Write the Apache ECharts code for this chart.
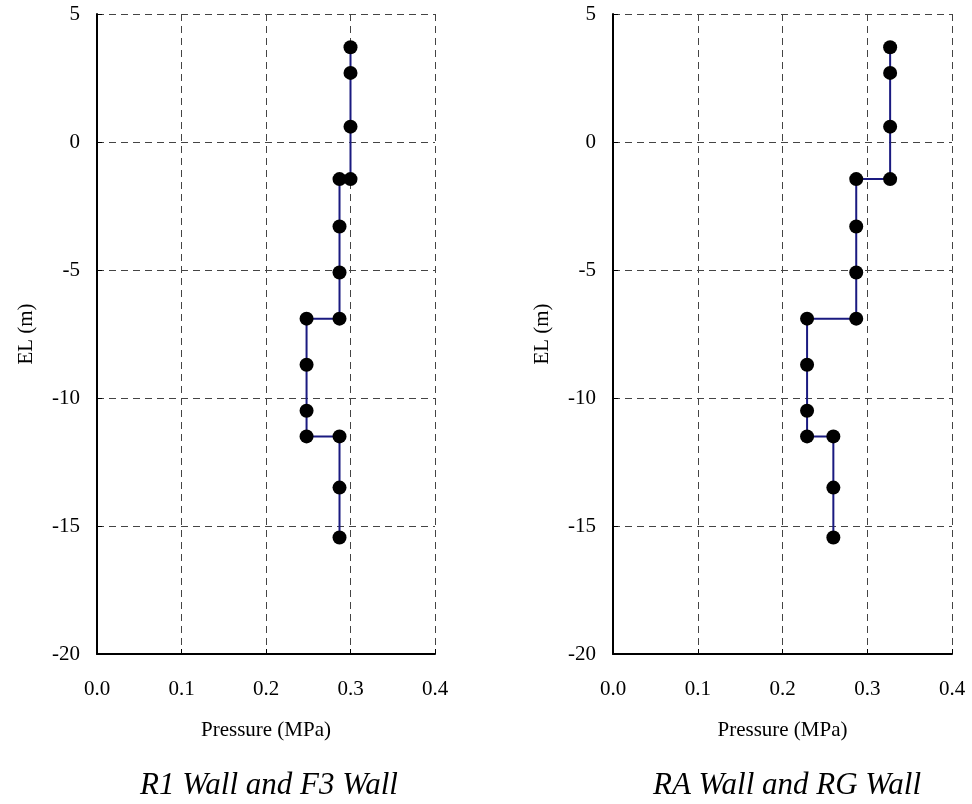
<!DOCTYPE html>
<html>
<head>
<meta charset="utf-8">
<script src="https://cdn.jsdelivr.net/npm/echarts@6/dist/echarts.min.js"></script>
<style>
html,body{margin:0;padding:0;background:#fff;}
#chart{width:972px;height:804px;}
</style>
</head>
<body>
<div id="chart"></div>
<script>
// Data
const elevations = [3.7, 2.7, 0.6, -1.45, -1.45, -3.3, -5.1, -6.9, -6.9, -8.7, -10.5, -11.5, -11.5, -13.5, -15.45];
const pressureR1F3 = [0.30, 0.30, 0.30, 0.30, 0.287, 0.287, 0.287, 0.287, 0.248, 0.248, 0.248, 0.248, 0.287, 0.287, 0.287];
const pressureRARG = [0.327, 0.327, 0.327, 0.327, 0.287, 0.287, 0.287, 0.287, 0.229, 0.229, 0.229, 0.229, 0.26, 0.26, 0.26];
const xTicks = [0.0, 0.1, 0.2, 0.3, 0.4];
const yTicks = [-20, -15, -10, -5, 0, 5];
const captions = ['R1 Wall and F3 Wall', 'RA Wall and RG Wall'];
const xName = 'Pressure (MPa)';
const yName = 'EL (m)';

const FONT = '"Liberation Serif", "Times New Roman", serif';
const pairs = (xs) => xs.map((x, i) => [x, elevations[i]]);

const grids = [
  {left: 97, top: 14, width: 338, height: 640},
  {left: 613, top: 14, width: 339, height: 640}
];

function xAxis(i) {
  return {
    type: 'value', gridIndex: i,
    min: xTicks[0], max: xTicks[xTicks.length - 1], interval: 0.1,
    name: xName, nameLocation: 'middle', nameGap: 66,
    nameTextStyle: {fontFamily: FONT, fontSize: 21, color: '#000'},
    axisLine: {show: true, onZero: false, lineStyle: {color: '#000', width: 2}},
    axisTick: {show: true, inside: true, length: 5, lineStyle: {color: '#000'}},
    axisLabel: {margin: 25, fontFamily: FONT, fontSize: 21, color: '#000',
      formatter: v => v.toFixed(1)},
    splitLine: {show: true, lineStyle: {color: '#444', width: 1, type: [7, 5]}}
  };
}
function yAxis(i) {
  return {
    type: 'value', gridIndex: i,
    min: yTicks[0], max: yTicks[yTicks.length - 1], interval: 5,
    name: yName, nameLocation: 'middle', nameGap: 60, nameRotate: 90,
    nameTextStyle: {fontFamily: FONT, fontSize: 21, color: '#000'},
    axisLine: {show: true, onZero: false, lineStyle: {color: '#000', width: 2}},
    axisTick: {show: true, inside: true, length: 5, lineStyle: {color: '#000'}},
    axisLabel: {margin: 17, fontFamily: FONT, fontSize: 21, color: '#000', padding: [10, 0, 0, 0]},
    splitLine: {show: true, lineStyle: {color: '#444', width: 1, type: [7, 5]}}
  };
}
function series(i, xs) {
  return {
    type: 'line', xAxisIndex: i, yAxisIndex: i,
    data: pairs(xs),
    symbol: 'circle', symbolSize: 14, showSymbol: true,
    itemStyle: {color: '#000'},
    lineStyle: {color: '#1a1a80', width: 2},
    animation: false
  };
}

const chart = echarts.init(document.getElementById('chart'), null, {renderer: 'canvas'});
chart.setOption({
  backgroundColor: '#fff',
  animation: false,
  title: [
    {text: captions[0], left: 264, top: 765, textAlign: 'center',
     textStyle: {fontFamily: FONT, fontSize: 31, fontStyle: 'italic', fontWeight: 'normal', color: '#000'}},
    {text: captions[1], left: 782, top: 765, textAlign: 'center',
     textStyle: {fontFamily: FONT, fontSize: 31, fontStyle: 'italic', fontWeight: 'normal', color: '#000'}}
  ],
  grid: grids,
  xAxis: [xAxis(0), xAxis(1)],
  yAxis: [yAxis(0), yAxis(1)],
  series: [series(0, pressureR1F3), series(1, pressureRARG)]
});
</script>
</body>
</html>
